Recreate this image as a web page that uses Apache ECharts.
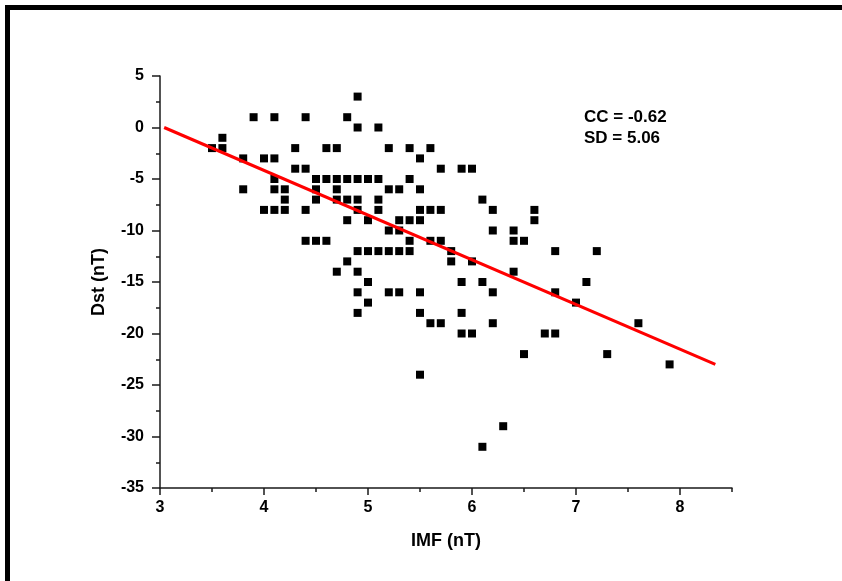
<!DOCTYPE html>
<html>
<head>
<meta charset="utf-8">
<script src="https://cdn.jsdelivr.net/npm/echarts@6/dist/echarts.min.js"></script>
<style>
html,body{margin:0;padding:0;background:#fff;}
#chart{width:842px;height:581px;}
</style>
</head>
<body>
<div id="chart"></div>
<script>
// Data: [IMF (nT), Dst (nT)]
const points = [
  [4.9,3],
  [3.9,1],[4.1,1],[4.4,1],[4.8,1],
  [4.9,0],[5.1,0],
  [3.6,-1],
  [3.5,-2],[3.6,-2],[4.3,-2],[4.6,-2],[4.7,-2],[5.2,-2],[5.4,-2],[5.6,-2],
  [3.8,-3],[4.0,-3],[4.1,-3],[5.5,-3],
  [4.3,-4],[4.4,-4],[5.7,-4],[5.9,-4],[6.0,-4],
  [4.1,-5],[4.5,-5],[4.6,-5],[4.7,-5],[4.8,-5],[4.9,-5],[5.0,-5],[5.1,-5],[5.4,-5],
  [3.8,-6],[4.1,-6],[4.2,-6],[4.5,-6],[4.7,-6],[5.2,-6],[5.3,-6],[5.5,-6],
  [4.2,-7],[4.5,-7],[4.7,-7],[4.8,-7],[4.9,-7],[5.1,-7],[6.1,-7],
  [4.0,-8],[4.1,-8],[4.2,-8],[4.4,-8],[4.9,-8],[5.1,-8],[5.5,-8],[5.6,-8],[5.7,-8],[6.2,-8],[6.6,-8],
  [4.8,-9],[5.0,-9],[5.3,-9],[5.4,-9],[5.5,-9],[6.6,-9],
  [5.2,-10],[5.3,-10],[6.2,-10],[6.4,-10],
  [4.4,-11],[4.5,-11],[4.6,-11],[5.4,-11],[5.6,-11],[5.7,-11],[6.4,-11],[6.5,-11],
  [4.9,-12],[5.0,-12],[5.1,-12],[5.2,-12],[5.3,-12],[5.4,-12],[5.8,-12],[6.8,-12],[7.2,-12],
  [4.8,-13],[5.8,-13],[6.0,-13],
  [4.7,-14],[4.9,-14],[6.4,-14],
  [5.0,-15],[5.9,-15],[6.1,-15],[7.1,-15],
  [4.9,-16],[5.2,-16],[5.3,-16],[5.5,-16],[6.2,-16],[6.8,-16],
  [5.0,-17],[7.0,-17],
  [4.9,-18],[5.5,-18],[5.9,-18],
  [5.6,-19],[5.7,-19],[6.2,-19],[7.6,-19],
  [5.9,-20],[6.0,-20],[6.7,-20],[6.8,-20],
  [6.5,-22],[7.3,-22],
  [7.9,-23],
  [5.5,-24],
  [6.3,-29],
  [6.1,-31]
];
// Linear fit line endpoints
const fitLine = [[3.04,0.0],[8.34,-23.0]];
const xMajorTicks = [3,4,5,6,7,8];
const xMinorTicks = [3.5,4.5,5.5,6.5,7.5,8.5];
const statsText = ['CC = -0.62','SD = 5.06'];

const chart = echarts.init(document.getElementById('chart'));
const FONT = 'Liberation Sans, Arial, sans-serif';
chart.setOption({
  backgroundColor:'#ffffff',
  animation:false,
  grid:{left:160,right:110,top:76,bottom:93,containLabel:false},
  xAxis:[{
    type:'value',min:3,max:8.5,interval:0.5,position:'bottom',
    axisLine:{show:true,onZero:false,lineStyle:{color:'#1a1a1a',width:1.5}},
    axisTick:{show:true,customValues:xMajorTicks,length:7,lineStyle:{color:'#1a1a1a',width:1.5}},
    axisLabel:{customValues:xMajorTicks,margin:12,color:'#000',fontFamily:FONT,fontWeight:'bold',fontSize:16},
    splitLine:{show:false},
    name:'IMF (nT)',nameLocation:'middle',nameGap:44,
    nameTextStyle:{color:'#000',fontFamily:FONT,fontWeight:'bold',fontSize:18}
  },{
    type:'value',min:3,max:8.5,interval:0.5,position:'bottom',
    axisLine:{show:false,onZero:false},
    axisTick:{show:true,customValues:xMinorTicks,length:4,lineStyle:{color:'#1a1a1a',width:1.5}},
    axisLabel:{show:false},splitLine:{show:false}
  }],
  yAxis:{
    type:'value',min:-35,max:5,interval:5,
    axisLine:{show:true,onZero:false,lineStyle:{color:'#1a1a1a',width:1.5}},
    axisTick:{show:true,length:8,lineStyle:{color:'#1a1a1a',width:1.5}},
    minorTick:{show:true,splitNumber:2,length:4,lineStyle:{color:'#1a1a1a',width:1.5}},
    axisLabel:{margin:16,color:'#000',fontFamily:FONT,fontWeight:'bold',fontSize:16},
    splitLine:{show:false},
    name:'Dst (nT)',nameLocation:'middle',nameGap:52,nameRotate:90,
    nameTextStyle:{color:'#000',fontFamily:FONT,fontWeight:'bold',fontSize:18}
  },
  series:[{
    type:'scatter',data:points,symbol:'rect',symbolSize:8,
    itemStyle:{color:'#000',opacity:1},z:2
  },{
    type:'line',data:fitLine,showSymbol:false,symbol:'none',
    lineStyle:{color:'#ff0000',width:3},z:3
  }],
  graphic:[
    {type:'rect',left:5,top:5,shape:{width:837,height:5},style:{fill:'#000'}},
    {type:'rect',left:5,top:5,shape:{width:5,height:576},style:{fill:'#000'}},
    {type:'text',left:584,top:109,style:{text:statsText[0],fill:'#000',font:'bold 17px '+FONT}},
    {type:'text',left:584,top:130,style:{text:statsText[1],fill:'#000',font:'bold 17px '+FONT}}
  ]
});
</script>
</body>
</html>
